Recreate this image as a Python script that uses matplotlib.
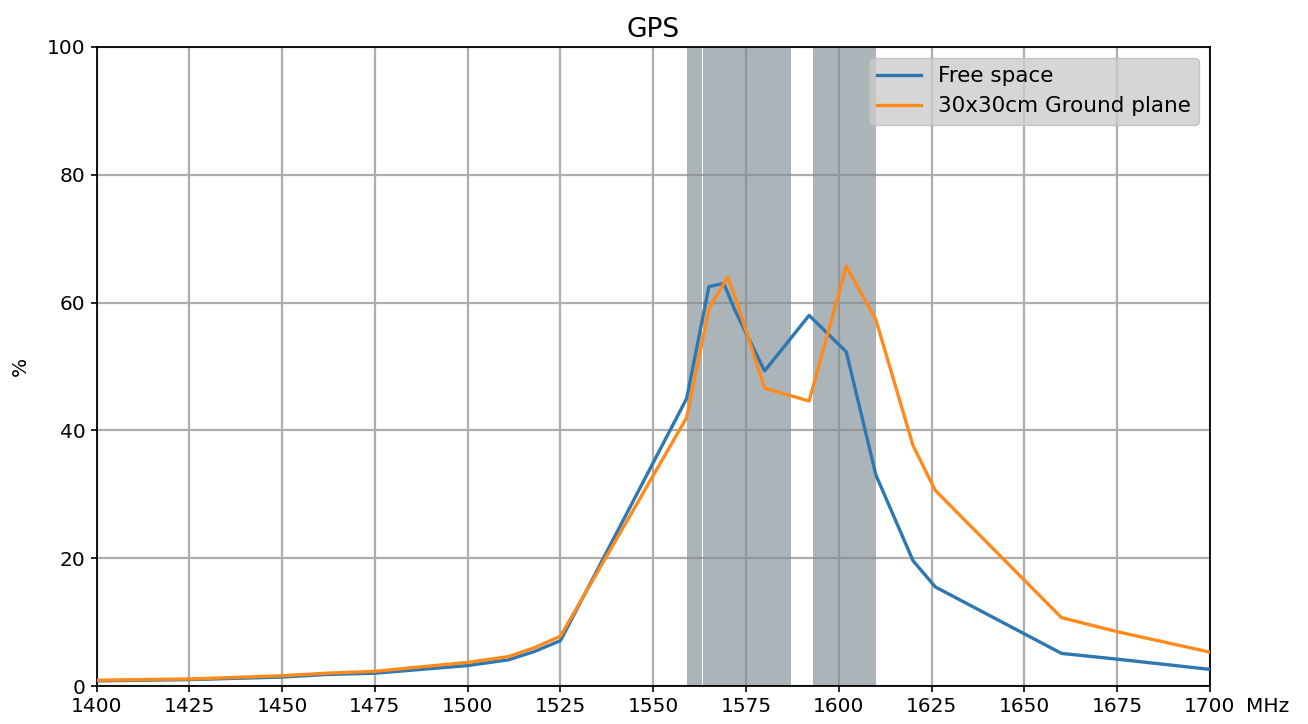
import matplotlib
matplotlib.use("Agg")
import matplotlib.pyplot as plt

freq_free = [1400, 1425, 1450, 1462, 1475, 1500, 1511, 1518, 1525, 1559, 1565, 1569, 1572, 1580,
             1592, 1602, 1610, 1620, 1626, 1660, 1675, 1700]
free_space = [0.8, 1.0, 1.4, 1.8, 2.0, 3.2, 4.1, 5.4, 7.1, 45.0, 62.5, 63.0, 58.8, 49.3,
              58.0, 52.3, 33.0, 19.6, 15.5, 5.1, 4.2, 2.6]

freq_gp = [1400, 1425, 1450, 1462, 1475, 1500, 1511, 1518, 1525, 1559, 1565, 1570, 1572, 1580,
           1592, 1602, 1610, 1620, 1626, 1660, 1675, 1700]
ground_plane = [0.9, 1.1, 1.6, 2.0, 2.3, 3.7, 4.6, 6.0, 7.8, 42.0, 59.0, 64.0, 61.0, 46.6,
                44.6, 65.7, 57.3, 37.6, 30.6, 10.7, 8.5, 5.3]

bands = [(1559, 1563), (1563.5, 1587), (1593, 1610)]
xticks = list(range(1400, 1701, 25))
yticks = [0, 20, 40, 60, 80, 100]

fig = plt.figure(figsize=(13.08, 7.24), dpi=100)
ax = fig.add_axes([96.5 / 1308, 1 - 686 / 724, (1210 - 96.5) / 1308, (686 - 47) / 724])

ax.grid(True, color="#adadad", linewidth=1.6, zorder=0)
for a, b in bands:
    ax.axvspan(a, b, color="#7f8c92", alpha=0.65, linewidth=0, zorder=1)

ax.plot(freq_free, free_space, color="#2f77b0", linewidth=2.4, label="Free space", zorder=3)
ax.plot(freq_gp, ground_plane, color="#ff8a1c", linewidth=2.4, label="30x30cm Ground plane", zorder=4)

ax.set_xlim(1400, 1700)
ax.set_ylim(0, 100)
ax.set_xticks(xticks)
ax.set_yticks(yticks)
ax.tick_params(labelsize=14.5, length=4.5, width=1.2, color="black", pad=3.5)
for s in ax.spines.values():
    s.set_linewidth(1.3)
    s.set_color("black")
ax.set_axisbelow(True)

ax.set_title("GPS", fontsize=19, pad=7)
ax.set_ylabel("%", fontsize=14.5, labelpad=12)
ax.annotate("MHz", xy=(1, 0), xycoords="axes fraction", xytext=(26, -8),
            textcoords="offset points", ha="left", va="top", fontsize=14.5)

leg = ax.legend(loc="upper right", fontsize=15.5, facecolor="#cccccc", framealpha=0.8,
                edgecolor="#bbbbbb", borderaxespad=0.5, handlelength=2.0,
                labelspacing=0.45, handletextpad=0.8)
leg.get_frame().set_linewidth(1.0)

fig.savefig("out.png", dpi=100)
